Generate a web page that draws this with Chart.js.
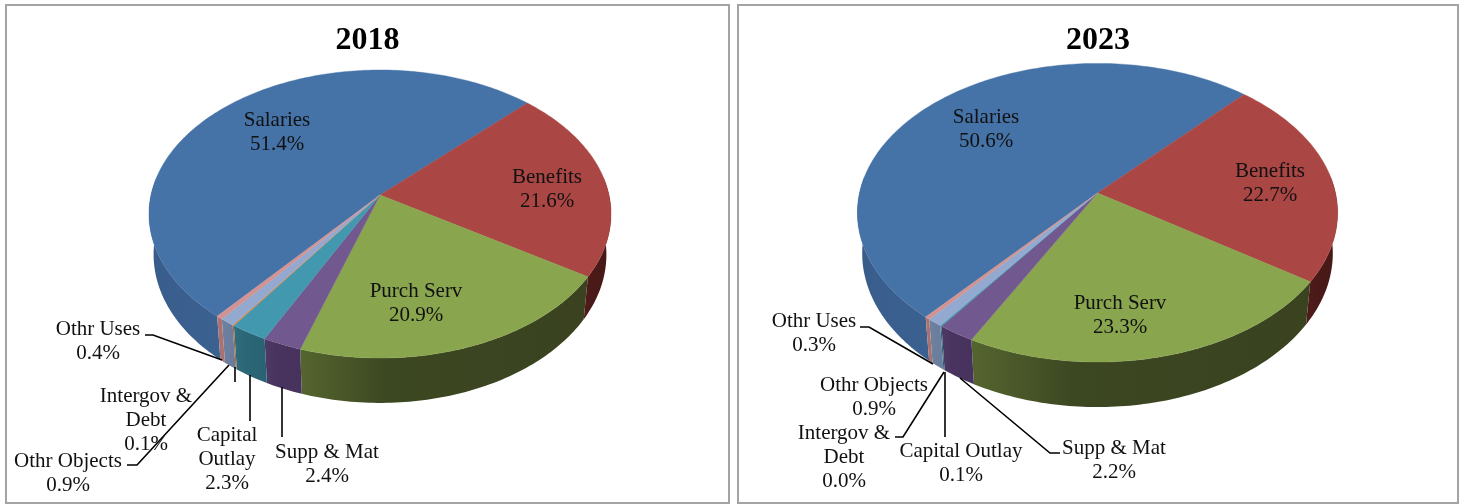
<!DOCTYPE html>
<html>
<head>
<meta charset="utf-8">
<title>2018 / 2023</title>
<script src="https://cdn.jsdelivr.net/npm/chart.js@4/dist/chart.umd.min.js"></script>
<style>
  html, body { margin: 0; padding: 0; background: #fff; width: 1462px; height: 504px; overflow: hidden; }
  .panel { position: absolute; top: 4px; height: 496px; border: 2px solid #a3a3a3; background: #fff; }
  #panel2018 { left: 5px; width: 721px; }
  #panel2023 { left: 737px; width: 718px; }
  canvas { display: block; }
</style>
</head>
<body>
<div class="panel" id="panel2018"><canvas id="pie2018" width="721" height="496"></canvas></div>
<div class="panel" id="panel2023"><canvas id="pie2023" width="718" height="496"></canvas></div>
<script>
// Datos
const categories = ["Salaries", "Benefits", "Purch Serv", "Supp & Mat", "Capital Outlay", "Intergov & Debt", "Othr Objects", "Othr Uses"];
const values2018 = [51.4, 21.6, 20.9, 2.4, 2.3, 0.1, 0.9, 0.4];
const values2023 = [50.6, 22.7, 23.3, 2.2, 0.1, 0.0, 0.9, 0.3];

// Colores de cada porcion: cara superior y pared lateral (izquierda, centro, derecha)
const faceColors = ["#4572a7", "#aa4643", "#89a54e", "#71588f", "#4198af", "#db843d", "#93a9cf", "#d19392"];
const wallColors = [
    ["#385b89", "#3a5f8e", "#3b6190"],
    ["#521c1a", "#4a1a18", "#451816"],
    ["#55652f", "#3c4822", "#3a4220"],
    ["#4d3a66", "#49345f", "#46325c"],
    ["#2f6f80", "#2b6777", "#296272"],
    ["#a8662c", "#a8662c", "#a8662c"],
    ["#6f82a3", "#6c7f9f", "#6a7c9c"],
    ["#b27a78", "#a87270", "#a87270"]
];

// Geometria de cada pastel en coordenadas de pagina (perspectiva de la cara superior)
const geo2018 = { ox: 7, oy: 6, cx: 380, cy: 195, r: 229, q: 141.5, p: 0.132 };
const geo2023 = { ox: 739, oy: 6, cx: 1097.5, cy: 193, r: 238, q: 146.7, p: 0.132 };

// Etiquetas: [x centro, y primera linea, partir nombre en dos lineas]
const labels2018 = [[277, 120], [547, 177], [416, 291], [327, 452], [227, 435, true], [146, 396, true], [68, 461], [98, 329]];
const labels2023 = [[986, 117], [1270, 171], [1120, 303], [1114, 448], [961, 451], [844, 433, true], [874, 385], [814, 321]];

// Lineas guia de las etiquetas pequenas
const leaders2018 = [
    [[282, 387], [282, 437]],
    [[250, 375], [250, 421]],
    [[235, 367], [235, 382]],
    [[229, 365], [137, 465], [127, 465]],
    [[222, 360], [153, 335], [145, 335]]
];
const leaders2023 = [
    [[960, 378], [1050, 453], [1060, 453]],
    [[945, 372], [945, 437]],
    [[944, 372], [903, 437], [895, 437]],
    [[933, 364], [869, 327], [860, 327]]
];

// Proyecta un angulo de la porcion sobre el borde superior (k=0) o inferior (k=1) del pastel
function rim(geo, angle, k) {
    const u = Math.cos(angle);
    const v = Math.sin(angle);
    const w = 1 - geo.p * v;
    const sx = k ? 0.98 : 1;
    const sy = k ? 1.03 : 1;
    return {
        x: geo.cx + sx * geo.r * u / w,
        y: geo.cy + (k ? 40 : 0) + sy * geo.q * v / w
    };
}

function anglesOf(arc, step) {
    const list = [];
    for (let a = arc.startAngle; a < arc.endAngle; a += step) list.push(a);
    list.push(arc.endAngle);
    return list;
}

// Plugin que pinta las porciones calculadas por Chart.js en 3D
function pie3d(geo, labels, leaders, values) {
    return {
        id: "pie3d",
        beforeDatasetsDraw(chart) {
            const ctx = chart.ctx;
            const arcs = chart.getDatasetMeta(0).data;
            const step = Math.PI / 180;
            ctx.save();
            ctx.translate(-geo.ox, -geo.oy);

            // Paredes laterales, solo la parte delantera
            arcs.forEach((arc, i) => {
                const front = anglesOf(arc, step).filter(a => Math.sin(a) > -0.13);
                if (front.length < 2 || arc.endAngle === arc.startAngle) return;
                const top = front.map(a => rim(geo, a, 0));
                const bottom = front.map(a => rim(geo, a, 1)).reverse();
                const pts = top.concat(bottom);
                const xs = pts.map(p => p.x);
                const grad = ctx.createLinearGradient(Math.min(...xs), 0, Math.max(...xs), 0);
                wallColors[i].forEach((c, n) => grad.addColorStop(n === 1 ? 0.3 : n / 2, c));
                ctx.beginPath();
                pts.forEach((p, n) => n ? ctx.lineTo(p.x, p.y) : ctx.moveTo(p.x, p.y));
                ctx.closePath();
                ctx.fillStyle = grad;
                ctx.fill();
            });

            // Cara superior
            arcs.forEach((arc, i) => {
                if (arc.endAngle === arc.startAngle) return;
                ctx.beginPath();
                ctx.moveTo(geo.cx, geo.cy);
                anglesOf(arc, step).forEach(a => {
                    const p = rim(geo, a, 0);
                    ctx.lineTo(p.x, p.y);
                });
                ctx.closePath();
                ctx.fillStyle = faceColors[i];
                ctx.strokeStyle = faceColors[i];
                ctx.lineWidth = 0.4;
                ctx.fill();
                ctx.stroke();
            });
            ctx.restore();
            return false;
        },
        afterDraw(chart) {
            const ctx = chart.ctx;
            ctx.save();
            ctx.translate(-geo.ox, -geo.oy);

            ctx.strokeStyle = "#000";
            ctx.lineWidth = 1.6;
            leaders.forEach(line => {
                ctx.beginPath();
                line.forEach((p, n) => n ? ctx.lineTo(p[0], p[1]) : ctx.moveTo(p[0], p[1]));
                ctx.stroke();
            });

            ctx.font = "21px 'Liberation Serif'";
            ctx.fillStyle = "#111";
            ctx.textAlign = "center";
            ctx.textBaseline = "middle";
            labels.forEach((pos, i) => {
                const name = categories[i];
                const cut = name.lastIndexOf(" ");
                const lines = pos[2] ? [name.slice(0, cut), name.slice(cut + 1)] : [name];
                lines.push(values[i].toFixed(1) + "%");
                lines.forEach((t, n) => ctx.fillText(t, pos[0], pos[1] + n * 24));
            });
            ctx.restore();
        }
    };
}

function crearPastel(id, year, values, rotation, geo, labels, leaders) {
    new Chart(document.getElementById(id).getContext("2d"), {
        type: "pie",
        data: {
            labels: categories,
            datasets: [{ data: values, backgroundColor: faceColors, borderWidth: 0 }]
        },
        options: {
            responsive: false,
            animation: false,
            rotation: rotation,
            events: [],
            plugins: {
                legend: { display: false },
                tooltip: { enabled: false },
                title: {
                    display: true,
                    text: year,
                    color: "#000",
                    font: { family: "'Liberation Serif'", size: 32, weight: "bold" },
                    padding: { top: 16, bottom: 0 }
                }
            }
        },
        plugins: [pie3d(geo, labels, leaders, values)]
    });
}

crearPastel("pie2018", "2018", values2018, -140.3, geo2018, labels2018, leaders2018);
crearPastel("pie2023", "2023", values2023, -139.5, geo2023, labels2023, leaders2023);
</script>
</body>
</html>
